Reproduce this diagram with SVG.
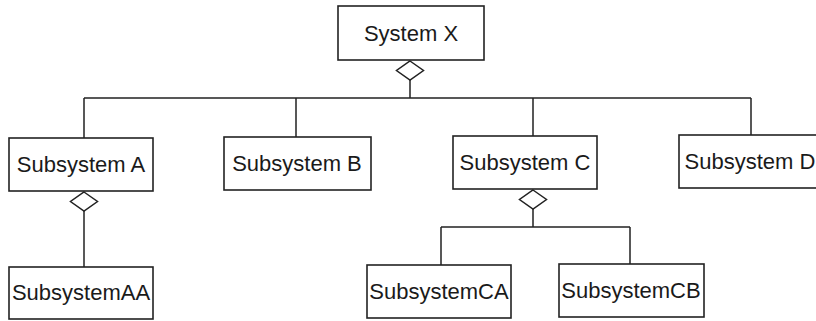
<svg xmlns="http://www.w3.org/2000/svg" width="816" height="321" viewBox="0 0 816 321">
<style>
.box{fill:#fff;stroke:#222;stroke-width:1.6}
.ln{fill:none;stroke:#222;stroke-width:1.5}
.dm{fill:#fff;stroke:#222;stroke-width:1.5}
text{font-family:"Liberation Sans",Arial,sans-serif;font-size:22px;fill:#1a1a1a;text-anchor:middle}
</style>
<rect width="816" height="321" fill="#fff"/>
<g id="connectors">
<path class="ln" d="M410 80 V98 M84 98 H751 M84 98 V138 M296 98 V137 M533 98 V136 M751 98 V135"/>
<path class="ln" d="M84 211 V267"/>
<path class="ln" d="M533 209 V227 M441 227 H630 M441 227 V265 M630 227 V264"/>
<polygon class="dm" points="410,61 423.5,70.5 410,80 396.5,70.5"/>
<polygon class="dm" points="84,192 97.5,201.5 84,211 70.5,201.5"/>
<polygon class="dm" points="533,190 546.5,199.5 533,209 519.5,199.5"/>
</g>
<g id="systemX"><rect class="box" x="338" y="6" width="146" height="54"/><text x="411" y="41">System X</text></g>
<g id="subsystemA"><rect class="box" x="9" y="138" width="144" height="53"/><text x="81" y="172">Subsystem A</text></g>
<g id="subsystemB"><rect class="box" x="224" y="137" width="147" height="53"/><text x="297" y="171">Subsystem B</text></g>
<g id="subsystemC"><rect class="box" x="453" y="136" width="144" height="53"/><text x="525" y="170">Subsystem C</text></g>
<g id="subsystemD"><rect class="box" x="679" y="135" width="146" height="53"/><text x="750" y="169">Subsystem D</text></g>
<g id="subsystemAA"><rect class="box" x="9" y="267" width="144" height="52"/><text x="81" y="300">SubsystemAA</text></g>
<g id="subsystemCA"><rect class="box" x="367" y="265" width="144" height="53"/><text x="439" y="299">SubsystemCA</text></g>
<g id="subsystemCB"><rect class="box" x="559" y="264" width="145" height="53"/><text x="631" y="298">SubsystemCB</text></g>
</svg>
